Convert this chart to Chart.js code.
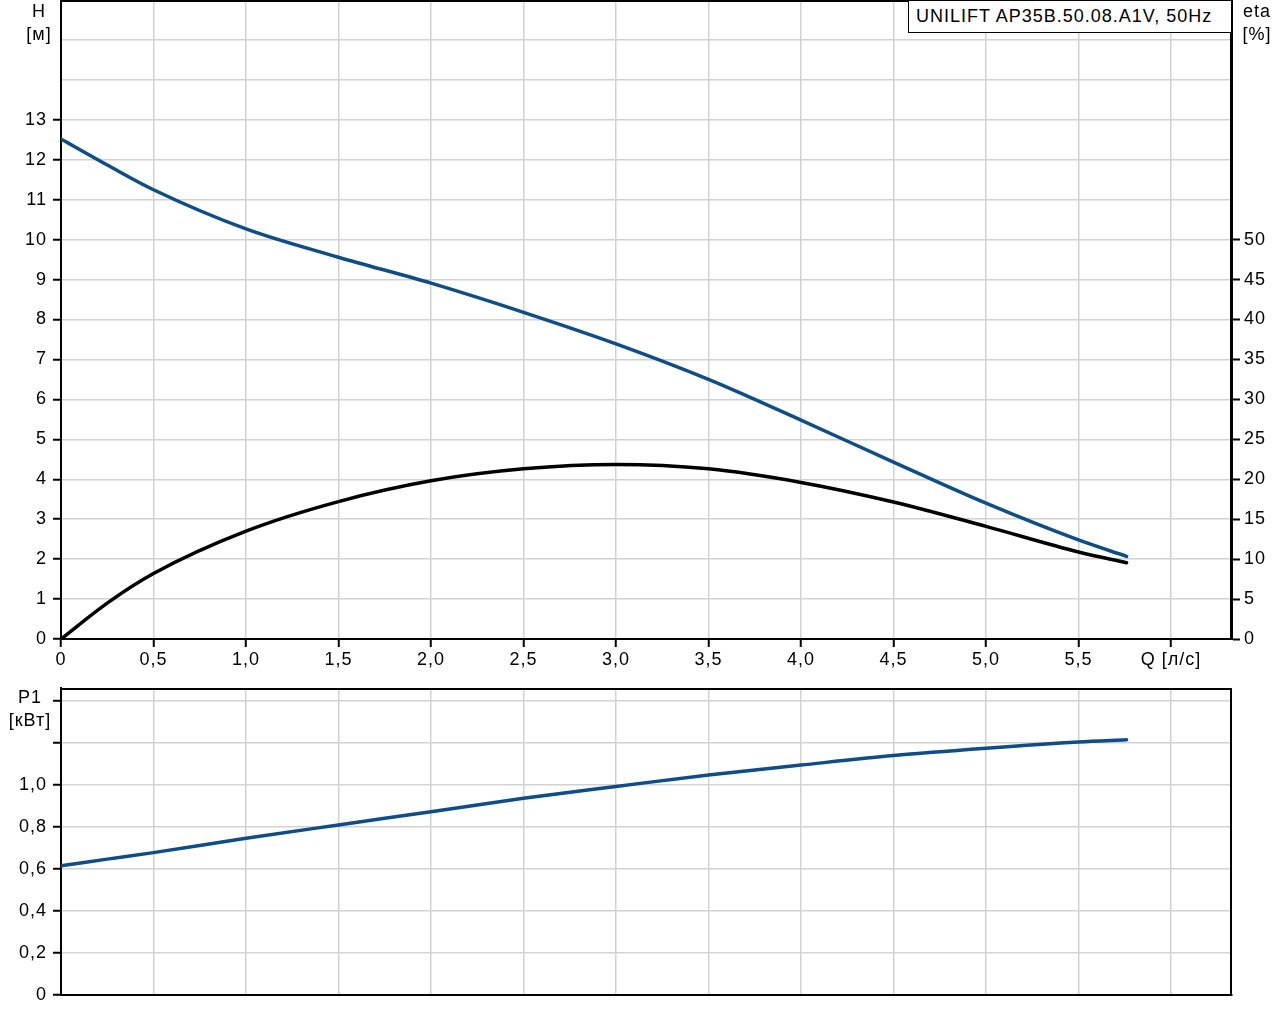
<!DOCTYPE html>
<html>
<head>
<meta charset="utf-8">
<script src="https://cdn.jsdelivr.net/npm/chart.js@4.4.1/dist/chart.umd.min.js"></script>
<style>
  body { margin: 0; background: #fff; font-family: "Liberation Sans", Arial, sans-serif; }
  #wrap { position: relative; width: 1280px; height: 1024px; }
  canvas { position: absolute; left: 0; }
  .lbl { position: absolute; font-size: 18px; line-height: 23px; text-align: center; color: #000; letter-spacing: 1px; }
  #legendBox { position: absolute; left: 908px; top: 0; width: 324px; height: 33px; border: 1px solid #000;
    background: #fff; font-size: 18px; line-height: 30px; padding-left: 7px; box-sizing: border-box; letter-spacing: 1px; }
</style>
</head>
<body>
<div id="wrap">
  <canvas id="top" width="1280" height="680" style="top:0"></canvas>
  <canvas id="bottom" width="1280" height="344" style="top:680px"></canvas>
  <div class="lbl" style="left:18px;top:0;width:42px">H<br>[м]</div>
  <div class="lbl" style="left:1235px;top:0;width:44px">eta<br>[%]</div>
  <div class="lbl" style="left:3px;top:686px;width:54px">P1<br>[кВт]</div>
  <div id="legendBox">UNILIFT AP35B.50.08.A1V, 50Hz</div>
</div>
<script>
// flow, l/s
const flow = [0, 0.25, 0.5, 1.0, 1.5, 2.0, 2.5, 3.0, 3.5, 4.0, 4.5, 5.0, 5.5, 5.76];
// head, m
const head = [12.52, 11.87, 11.25, 10.27, 9.56, 8.91, 8.18, 7.39, 6.5, 5.48, 4.43, 3.4, 2.48, 2.07];
// efficiency, %
const eta = [0, 4.5, 8.2, 13.5, 17.2, 19.8, 21.3, 21.85, 21.3, 19.6, 17.15, 14.1, 10.9, 9.55];
// power, kW
const power = [0.616, 0.647, 0.678, 0.746, 0.81, 0.873, 0.937, 0.993, 1.048, 1.095, 1.14, 1.175, 1.205, 1.216];

const qTicks = [0, 0.5, 1.0, 1.5, 2.0, 2.5, 3.0, 3.5, 4.0, 4.5, 5.0, 5.5, 6.0];
const hTicks = [0, 1, 2, 3, 4, 5, 6, 7, 8, 9, 10, 11, 12, 13, 14, 15];
const etaTicks = [0, 5, 10, 15, 20, 25, 30, 35, 40, 45, 50];
const pTicks = [0, 0.2, 0.4, 0.6, 0.8, 1.0, 1.2, 1.4];

const BLUE = '#0f4d89';
const GRID = '#d2d2d2';
const FONT = { family: '"Liberation Sans", Arial, sans-serif', size: 18 };

const comma = v => v === 0 ? '0' : v.toFixed(1).replace('.', ',');
const pts = ys => flow.map((q, i) => ({ x: q, y: ys[i] }));
const setTicks = list => scale => { scale.ticks = list.map(v => ({ value: v })); };
// no extra room for half labels, so the plot fills the frame
const noPad = extra => s => {
  s.paddingTop = 0; s.paddingBottom = 0; s.paddingLeft = 0; s.paddingRight = 0;
  extra(s);
};

// frame lines on top and right side of the plot, wider letters
const frame = {
  id: 'frame',
  beforeUpdate(chart) { chart.ctx.letterSpacing = '1px'; },
  beforeDraw(chart) { chart.ctx.letterSpacing = '1px'; },
  afterDraw(chart) {
    const { ctx, chartArea: a } = chart;
    ctx.save();
    ctx.strokeStyle = '#000';
    ctx.lineWidth = 2;
    ctx.beginPath();
    ctx.moveTo(a.left, a.top + 1);
    ctx.lineTo(a.right - 1, a.top + 1);
    ctx.lineTo(a.right - 1, a.bottom);
    ctx.stroke();
    ctx.restore();
  }
};

Chart.defaults.font.family = FONT.family;
Chart.defaults.color = '#000';

const lineDs = (data, color, axis) => ({
  data, borderColor: color, borderWidth: 3.5, pointRadius: 0,
  cubicInterpolationMode: 'monotone', yAxisID: axis, borderCapStyle: 'round'
});

new Chart(document.getElementById('top'), {
  type: 'line',
  data: {
    datasets: [
      lineDs(pts(head), BLUE, 'y'),
      lineDs(pts(eta), '#000', 'y2')
    ]
  },
  options: {
    responsive: false,
    animation: false,
    layout: { padding: 0 },
    plugins: { legend: { display: false }, tooltip: { enabled: false } },
    scales: {
      x: {
        type: 'linear', min: 0, max: 6.33,
        afterBuildTicks: setTicks(qTicks),
        afterFit: noPad(s => { s.height = 41; }),
        ticks: { font: FONT, padding: 2, maxRotation: 0, autoSkip: false,
          callback: v => v === 6 ? 'Q [л/с]' : comma(v) },
        grid: { color: c => c.tick && c.tick.value === 0 ? 'transparent' : GRID, lineWidth: 1.5,
          tickColor: '#000', tickLength: 8, tickWidth: 2 },
        border: { color: '#000', width: 2 }
      },
      y: {
        position: 'left', min: 0, max: 16,
        afterBuildTicks: setTicks(hTicks),
        afterFit: noPad(s => { s.width = 61; }),
        ticks: { font: FONT, padding: 6, callback: v => v <= 13 ? String(v) : '' },
        grid: { color: c => c.tick && c.tick.value === 0 ? 'transparent' : GRID, lineWidth: 1.5,
          tickColor: c => c.tick && c.tick.value <= 13 ? '#000' : 'transparent', tickLength: 8, tickWidth: 2 },
        border: { color: '#000', width: 2 }
      },
      y2: {
        position: 'right', min: 0, max: 80,
        afterBuildTicks: setTicks(etaTicks),
        afterFit: noPad(s => { s.width = 48; }),
        ticks: { font: FONT, padding: 4 },
        grid: { drawOnChartArea: false, tickColor: '#000', tickLength: 8, tickWidth: 2 },
        border: { color: '#000', width: 2 }
      }
    }
  },
  plugins: [frame]
});

new Chart(document.getElementById('bottom'), {
  type: 'line',
  data: { datasets: [lineDs(pts(power), BLUE, 'y')] },
  options: {
    responsive: false,
    animation: false,
    layout: { padding: { top: 8, right: 48, left: 0, bottom: 0 } },
    plugins: { legend: { display: false }, tooltip: { enabled: false } },
    scales: {
      x: {
        type: 'linear', min: 0, max: 6.33,
        afterBuildTicks: setTicks(qTicks),
        afterFit: noPad(s => { s.height = 29; }),
        ticks: { display: false },
        grid: { color: c => c.tick && c.tick.value === 0 ? 'transparent' : GRID, lineWidth: 1.5, drawTicks: false },
        border: { color: '#000', width: 2 }
      },
      y: {
        position: 'left', min: 0, max: 1.462,
        afterBuildTicks: setTicks(pTicks),
        afterFit: noPad(s => { s.width = 61; }),
        ticks: { font: FONT, padding: 6, callback: v => v <= 1.0001 ? comma(v) : '' },
        grid: { color: c => c.tick && c.tick.value === 0 ? 'transparent' : GRID, lineWidth: 1.5,
          tickColor: '#000', tickLength: 8, tickWidth: 2 },
        border: { color: '#000', width: 2 }
      }
    }
  },
  plugins: [frame]
});
</script>
</body>
</html>
